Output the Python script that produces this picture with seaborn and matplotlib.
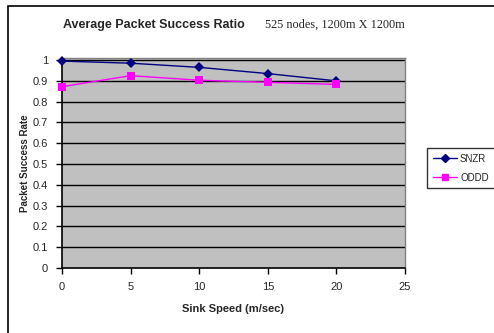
import matplotlib
matplotlib.use("Agg")
import matplotlib.pyplot as plt
import seaborn as sns
import pandas as pd
from matplotlib.patches import Rectangle
from matplotlib.lines import Line2D

speed = [0, 5, 10, 15, 20]
snzr = [0.995, 0.985, 0.965, 0.935, 0.90]
oddd = [0.872, 0.925, 0.903, 0.893, 0.883]
xticks = [0, 5, 10, 15, 20, 25]
yticks = [0, 0.1, 0.2, 0.3, 0.4, 0.5, 0.6, 0.7, 0.8, 0.9, 1.0]
ytick_labels = ["0", "0.1", "0.2", "0.3", "0.4", "0.5", "0.6", "0.7", "0.8", "0.9", "1"]

df = pd.DataFrame({
    "speed": speed * 2,
    "value": snzr + oddd,
    "series": ["SNZR"] * len(speed) + ["ODDD"] * len(speed),
})

sns.set_style("white")
plt.rcParams["font.family"] = ["Liberation Sans", "DejaVu Sans"]

fig = plt.figure(figsize=(4.94, 3.33), dpi=100)
ax = fig.add_axes([62 / 494, 65 / 333, (405 - 62) / 494, (268 - 58) / 333])

# outer chart border
fig.add_artist(Rectangle((8 / 494, -0.1), 1.2, (333 - 6) / 333 + 0.1,
                         transform=fig.transFigure, fill=False,
                         edgecolor="black", linewidth=1.2))

ax.set_facecolor("#C0C0C0")
for y in yticks[1:]:
    ax.axhline(y, color="black", linewidth=1.0, zorder=1)

palette = {"SNZR": "#000080", "ODDD": "#FF00FF"}
markers = {"SNZR": "D", "ODDD": "s"}
sns.lineplot(data=df, x="speed", y="value", hue="series", style="series",
             palette=palette, markers=markers, dashes=False, ax=ax,
             linewidth=1.0, markersize=6, markeredgewidth=0, legend=False,
             zorder=3, clip_on=False)
for line, name in zip(ax.get_lines()[-2:], ["SNZR", "ODDD"]):
    if name == "SNZR":
        line.set_markersize(5)

ax.set_xlim(0, 25)
ax.set_ylim(0, 1.01)
ax.set_xticks(xticks)
ax.set_xticklabels([str(t) for t in xticks], fontsize=8)
ax.set_yticks(yticks)
ax.set_yticklabels(ytick_labels, fontsize=8)
ax.tick_params(axis="both", direction="out", length=4, width=1, color="black",
               left=True, bottom=True, pad=6)

for side in ["left", "bottom"]:
    ax.spines[side].set_color("black")
    ax.spines[side].set_linewidth(1.2)
for side in ["top", "right"]:
    ax.spines[side].set_color("#808080")
    ax.spines[side].set_linewidth(1.0)

ax.set_xlabel("Sink Speed (m/sec)", fontsize=8, fontweight="bold", labelpad=9)
ax.set_ylabel("Packet Success Rate", fontsize=7, fontweight="bold", labelpad=2)

fig.text(63 / 494, 1 - 25 / 333, "Average Packet Success Ratio", fontsize=9,
         fontweight="bold", va="center", ha="left")
fig.text(265 / 494, 1 - 25 / 333, "525 nodes, 1200m X 1200m", fontsize=8.8,
         family=["Liberation Serif", "DejaVu Serif"], va="center", ha="left")

# legend
handles = [Line2D([], [], color="#000080", marker="D", markersize=4, linewidth=1),
           Line2D([], [], color="#FF00FF", marker="s", markersize=5, linewidth=1)]
leg = fig.legend(handles, ["SNZR", "ODDD"], loc="upper left",
                 bbox_to_anchor=(427 / 494, 1 - 148 / 333), fontsize=7,
                 frameon=True, fancybox=False, edgecolor="black",
                 handlelength=2.5, borderpad=0.6, labelspacing=0.9,
                 handletextpad=0.3, borderaxespad=0)
leg.get_frame().set_linewidth(1.0)

fig.savefig("out.png", dpi=100)
